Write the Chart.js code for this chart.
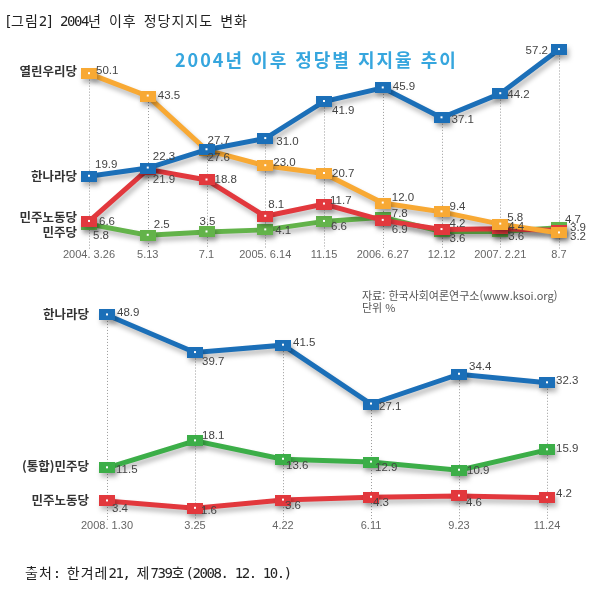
<!DOCTYPE html>
<html lang="ko">
<head>
<meta charset="UTF-8">
<title>2004년 이후 정당지지도 변화</title>
<script src="https://cdn.jsdelivr.net/npm/chart.js"></script>
<style>
  body { margin: 0; background: #fff; }
  #wrap { position: relative; width: 598px; height: 597px; overflow: hidden; background: #fff; }
  #wrap canvas { position: absolute; left: 0; top: 0; }
  .txt { position: absolute; white-space: nowrap; }
  .mono { font-family: "DejaVu Sans Mono", "Noto Sans CJK KR", monospace; font-size: 14px; line-height: 16px; letter-spacing: 1px; color: #222; }
  .mono .half { letter-spacing: -1.4px; }
  #innerTitle { left: 175px; top: 47px; font-family: "Noto Sans CJK KR", sans-serif; font-weight: bold; font-size: 18px; line-height: 24px; letter-spacing: 2px; color: #36a6de; }
  .src { left: 362px; font-family: "Noto Sans CJK KR", sans-serif; font-size: 11px; line-height: 12px; color: #555; }
</style>
</head>
<body>
<div id="wrap">
  <canvas id="topChart" width="598" height="597"></canvas>
  <canvas id="bottomChart" width="598" height="597"></canvas>
  <div class="txt mono" style="left:4px; top:13px;">[그림2] 2004년 이후 정당지지도 변화</div>
  <div class="txt" id="innerTitle">2004년 이후 정당별 지지율 추이</div>
  <div class="txt src" style="top:289px;">자료: 한국사회여론연구소(www.ksoi.org)</div>
  <div class="txt src" style="top:301px;">단위 %</div>
  <div class="txt mono" style="left:25px; top:565px;">출처: 한겨레21, 제739호(2008. 12. 10.)</div>
</div>

<script>
// 2004 ~ 2007 survey dates
const topDates = ['2004. 3.26', '5.13', '7.1', '2005. 6.14', '11.15', '2006. 6.27', '12.12', '2007. 2.21', '8.7'];
const topHannara = [19.9, 22.3, 27.7, 31.0, 41.9, 45.9, 37.1, 44.2, 57.2];
const topUri = [50.1, 43.5, 27.6, 23.0, 20.7, 12.0, 9.4, 5.8, 3.2];
const topMinnodong = [6.6, 21.9, 18.8, 8.1, 11.7, 6.9, 4.2, 4.4, 3.9];
const topMinju = [5.8, 2.5, 3.5, 4.1, 6.6, 7.8, 3.6, 3.6, 4.7];

// 2008 survey dates
const bottomDates = ['2008. 1.30', '3.25', '4.22', '6.11', '9.23', '11.24'];
const bottomHannara = [48.9, 39.7, 41.5, 27.1, 34.4, 32.3];
const bottomMinju = [11.5, 18.1, 13.6, 12.9, 10.9, 15.9];
const bottomMinnodong = [3.4, 1.6, 3.6, 4.3, 4.6, 4.2];

// Colors
const BLUE = '#1b6fb8';
const ORANGE = '#f8a934';
const RED = '#e2383d';
const GREEN_TOP = '#63b34a';
const GREEN_BOTTOM = '#3cae48';

// value label placement [dx, dy, align] relative to each point
const topOffsets = {
  hannara: [[6,-11],[5,-11],[1,-9],[11,3],[8,9],[10,-1],[10,2],[7,1],[-11,1,'right']],
  uri: [[7,-3],[10,0],[1,8],[8,-3],[8,0],[9,-5],[8,-5],[7,-6],[11,4]],
  minnodong: [[10,0],[5,10],[8,0],[3,-11],[6,-3],[9,9],[8,-6],[8,-2],[11,-3]],
  minju: [[4,12],[6,-10],[-7,-10],[10,1],[7,5],[9,-3],[8,7],[8,5],[6,-8]]
};
const bottomOffsets = {
  hannara: [[10,-2],[7,9],[10,-2],[8,3],[10,-7],[9,-2]],
  minju: [[9,2],[7,-5],[3,7],[4,6],[8,1],[9,-1]],
  minnodong: [[5,8],[6,3],[2,6],[2,6],[7,7],[9,-4]]
};

// half-width latin in the monospace captions
document.querySelectorAll('.mono').forEach(el => {
  el.innerHTML = el.textContent.replace(/([\x20-\x7e]+)/g, '<span class="half">$1</span>');
});

// square marker with a small white dot
function makeMarker(color, w, h) {
  const c = document.createElement('canvas');
  c.width = w; c.height = h;
  const g = c.getContext('2d');
  g.fillStyle = color;
  g.fillRect(0, 0, w, h);
  g.fillStyle = '#fff';
  g.fillRect(Math.floor(w / 2) - 1, Math.floor(h / 2) - 1, 2, 2);
  return c;
}

function series(name, data, color, offsets, nameDy) {
  return {
    label: name,
    data: data,
    borderColor: color,
    backgroundColor: color,
    borderWidth: 5,
    tension: 0,
    fill: false,
    clip: false,
    pointStyle: makeMarker(color, 16, 11),
    offsets: offsets,
    nameDy: nameDy
  };
}

const fmt = v => v.toFixed(1);

// dotted guides, shadows, value labels and series names
const decorPlugin = {
  id: 'decor',
  beforeDatasetsDraw(chart, args, opts) {
    const ctx = chart.ctx;
    const area = chart.chartArea;
    const n = chart.data.labels.length;
    ctx.save();
    ctx.strokeStyle = '#9a9a9a';
    ctx.lineWidth = 1;
    ctx.setLineDash([1, 2]);
    for (let i = 0; i < n; i++) {
      let top = area.bottom;
      let x = 0;
      chart.data.datasets.forEach((ds, k) => {
        const p = chart.getDatasetMeta(k).data[i];
        top = Math.min(top, p.y);
        x = p.x;
      });
      ctx.beginPath();
      ctx.moveTo(Math.round(x) + 0.5, top);
      ctx.lineTo(Math.round(x) + 0.5, area.bottom + opts.guideExtra);
      ctx.stroke();
    }
    ctx.restore();
    ctx.save();
    ctx.shadowColor = 'rgba(0,0,0,0.28)';
    ctx.shadowBlur = 5;
    ctx.shadowOffsetX = 2;
    ctx.shadowOffsetY = 4;
  },
  afterDatasetsDraw(chart, args, opts) {
    const ctx = chart.ctx;
    const area = chart.chartArea;
    ctx.restore();
    ctx.save();
    ctx.textBaseline = 'middle';
    chart.data.datasets.forEach((ds, k) => {
      const pts = chart.getDatasetMeta(k).data;
      ctx.font = '11.5px "Liberation Sans", Arial, sans-serif';
      ctx.fillStyle = '#444';
      pts.forEach((p, i) => {
        const o = ds.offsets[i];
        ctx.textAlign = o[2] || 'left';
        ctx.fillText(fmt(ds.data[i]), p.x + o[0], p.y + o[1]);
      });
      ctx.font = 'bold 12.5px "Noto Sans CJK KR", sans-serif';
      ctx.fillStyle = '#333';
      ctx.textAlign = 'right';
      ctx.fillText(ds.label, area.left - opts.nameGap, pts[0].y + ds.nameDy);
    });
    ctx.restore();
  }
};

function baseOptions(pad, yMax, nameGap, guideExtra) {
  return {
    responsive: false,
    animation: false,
    events: [],
    layout: { padding: pad },
    plugins: {
      legend: { display: false },
      tooltip: { enabled: false },
      title: { display: false },
      decor: { nameGap: nameGap, guideExtra: guideExtra }
    },
    scales: {
      x: {
        offset: false,
        grid: { display: false, drawTicks: false },
        border: { display: false },
        ticks: {
          padding: 5,
          color: '#666',
          font: { family: '"Liberation Sans", Arial, sans-serif', size: 11 },
          maxRotation: 0,
          autoSkip: false
        }
      },
      y: { display: false, min: 0, max: yMax }
    }
  };
}

new Chart(document.getElementById('topChart'), {
  type: 'line',
  data: {
    labels: topDates,
    datasets: [
      series('한나라당', topHannara, BLUE, topOffsets.hannara, 0),
      series('열린우리당', topUri, ORANGE, topOffsets.uri, -2),
      series('민주노동당', topMinnodong, RED, topOffsets.minnodong, -4),
      series('민주당', topMinju, GREEN_TOP, topOffsets.minju, 8)
    ]
  },
  options: baseOptions({ left: 89, right: 39, top: 40, bottom: 330 }, 60, 12, 5),
  plugins: [decorPlugin]
});

new Chart(document.getElementById('bottomChart'), {
  type: 'line',
  data: {
    labels: bottomDates,
    datasets: [
      series('한나라당', bottomHannara, BLUE, bottomOffsets.hannara, -1),
      series('(통합)민주당', bottomMinju, GREEN_BOTTOM, bottomOffsets.minju, -2),
      series('민주노동당', bottomMinnodong, RED, bottomOffsets.minnodong, -1)
    ]
  },
  options: baseOptions({ left: 107, right: 51, top: 290, bottom: 59 }, 55, 18, 5),
  plugins: [decorPlugin]
});
</script>
</body>
</html>
